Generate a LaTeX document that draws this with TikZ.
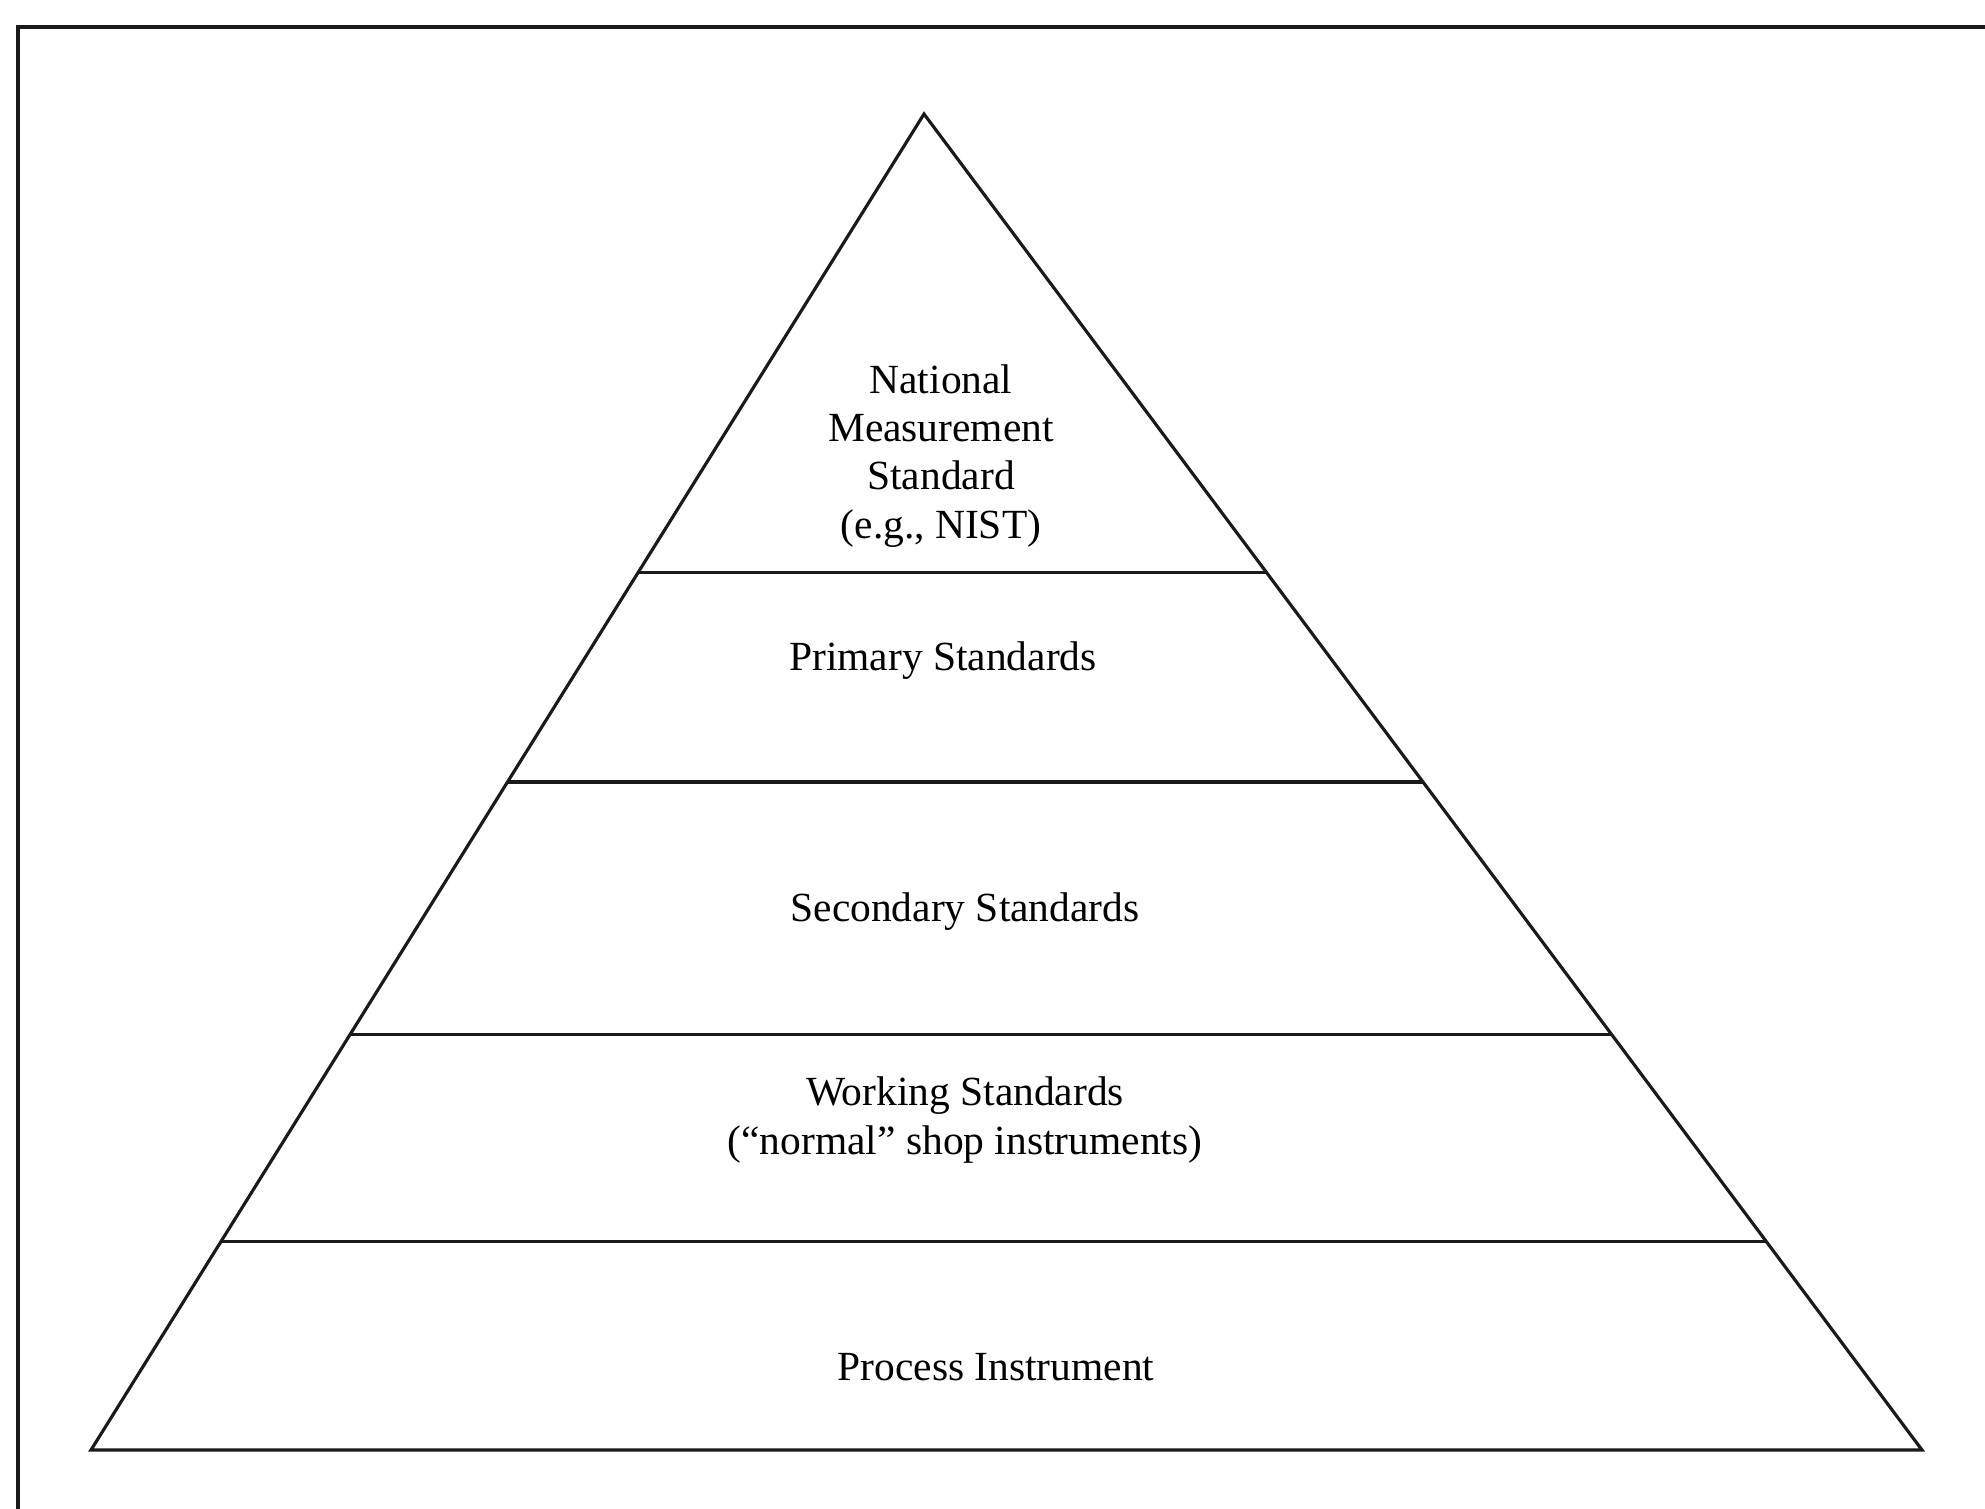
\documentclass[tikz,border=0pt]{standalone}
\usepackage{fontspec}
\setmainfont{Liberation Serif}
\usetikzlibrary{calc}
\definecolor{lineInk}{HTML}{1A1A1A}

\begin{document}
\begin{tikzpicture}[x=0.1mm,y=-0.1mm,
    tier/.style={font=\fontsize{11.8}{13.7}\selectfont, align=center, inner sep=0pt},
    edge/.style={draw=lineInk, line width=0.9pt, line join=miter}]
  \useasboundingbox (0,0) rectangle (1985,1509);
  % frame, cut off at right and bottom
  \draw[edge] (18,1509) -- (18,27) -- (1985,27);
  % pyramid outline
  \coordinate (apex) at (924,114);
  \coordinate (bl) at (91,1450);
  \coordinate (br) at (1922,1450);
  \draw[edge] (bl) -- (apex) -- (br) -- cycle;
  % tier boundaries
  \foreach \t/\f in {a/0.343,b/0.5,c/0.689,d/0.844}{
    \draw[edge] ($(apex)!\f!(bl)$) coordinate (\t L) -- ($(apex)!\f!(br)$) coordinate (\t R);
  }
  % tier labels
  \node[tier] (national) at (941,456) {National\\Measurement\\Standard\\(e.g., NIST)};
  \node[tier] (primary) at (943,661) {Primary Standards};
  \node[tier] (secondary) at (965,912) {Secondary Standards};
  \node[tier] (working) at (965,1120) {Working Standards\\(“normal” shop instruments)};
  \node[tier] (process) at (996,1367) {Process Instrument};
\end{tikzpicture}
\end{document}
